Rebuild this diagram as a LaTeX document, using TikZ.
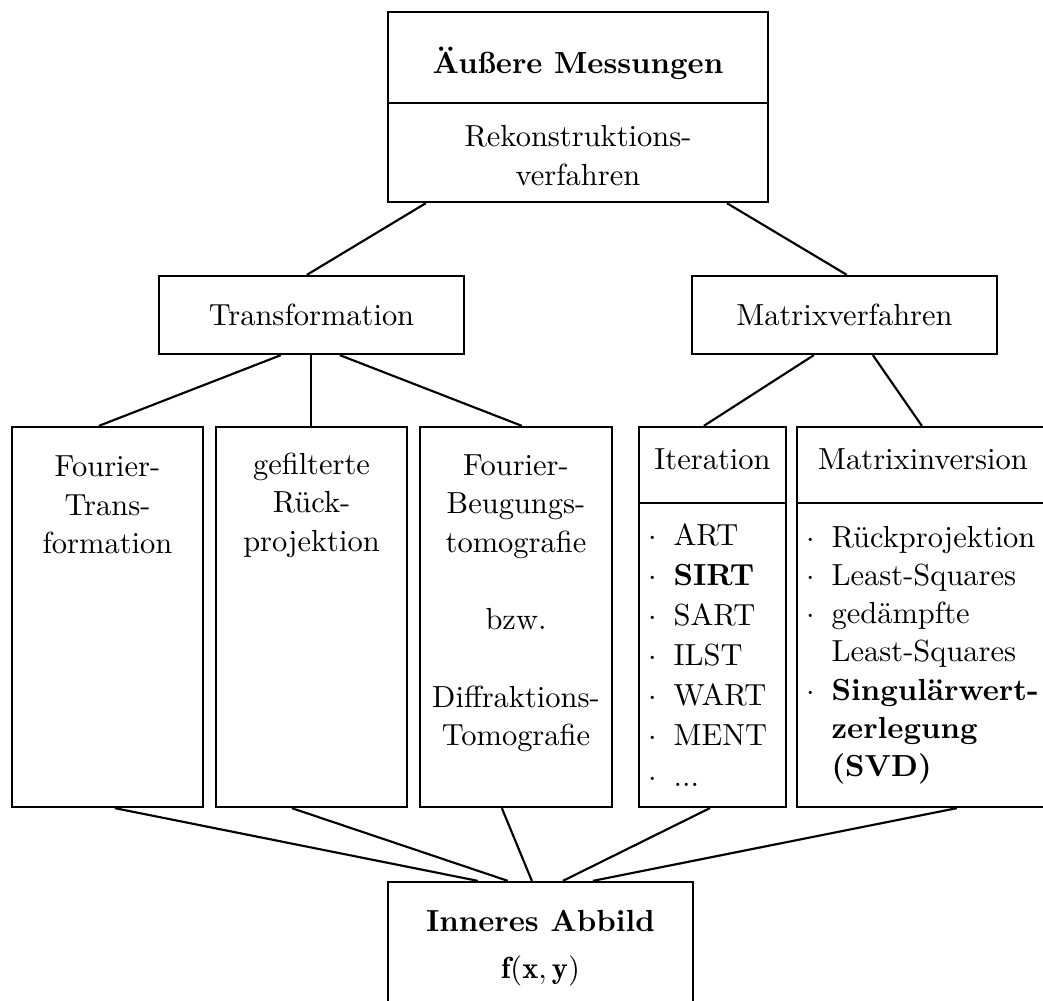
\documentclass[tikz,border=0pt]{standalone}
\usepackage{fontspec}
\usetikzlibrary{fit,calc}
\begin{document}
\begin{tikzpicture}[x=0.328pt,y=-0.328pt,
  box/.style={draw,line width=0.75pt,inner sep=0pt},
  txt/.style={inner sep=0pt,anchor=base},
  itm/.style={inner sep=0pt,anchor=base west},
  con/.style={line width=0.7pt}]
\clip (0,0) rectangle (1043,1000);
% boxes
\node[box,fit={(388,12)(768,103)}] (topA) {};
\node[box,fit={(388,103)(768,202)}] (topB) {};
\node[box,fit={(159,276)(464,354)}] (trans) {};
\node[box,fit={(692,276)(997,354)}] (matrix) {};
\node[box,fit={(12,427)(203,807)}] (fourier) {};
\node[box,fit={(216,427)(407,807)}] (filt) {};
\node[box,fit={(420,427)(612,807)}] (beug) {};
\node[box,fit={(639,427)(786,503)}] (iterH) {};
\node[box,fit={(639,503)(786,807)}] (iterL) {};
\node[box,fit={(797,427)(1049,503)}] (invH) {};
\node[box,fit={(797,503)(1049,807)}] (invL) {};
\node[box,fit={(388,882)(693,1012)}] (inner) {};
% texts
\node[txt] (tA) at (578,73) {\textbf{Äußere Messungen}};
\node[txt] (tB1) at (578,146) {Rekonstruktions-};
\node[txt] (tB2) at (578,185) {verfahren};
\node[txt] (tT) at (311.5,325) {Transformation};
\node[txt] (tM) at (844.5,325) {Matrixverfahren};
\node[txt] (f1) at (107.5,476.5) {Fourier-};
\node[txt] (f2) at (107.5,515) {Trans-};
\node[txt] (f3) at (107.5,553.5) {formation};
\node[txt] (g1) at (311.5,474) {gefilterte};
\node[txt] (g2) at (311.5,512.5) {Rück-};
\node[txt] (g3) at (311.5,551) {projektion};
\node[txt] (b1) at (516,475) {Fourier-};
\node[txt] (b2) at (516,513.5) {Beugungs-};
\node[txt] (b3) at (516,552) {tomografie};
\node[txt] (b4) at (516,629.5) {bzw.};
\node[txt] (b5) at (516,707) {Diffraktions-};
\node[txt] (b6) at (516,745.5) {Tomografie};
\node[txt] (tI) at (712.5,469) {Iteration};
\node[txt] (tV) at (923,469) {Matrixinversion};
% iteration list
\node[itm] (id1) at (648,545) {$\cdot$};
\node[itm] (it1) at (673,545) {ART};
\node[itm] (id2) at (648,585) {$\cdot$};
\node[itm] (it2) at (673,585) {\textbf{SIRT}};
\node[itm] (id3) at (648,625) {$\cdot$};
\node[itm] (it3) at (673,625) {SART};
\node[itm] (id4) at (648,665) {$\cdot$};
\node[itm] (it4) at (673,665) {ILST};
\node[itm] (id5) at (648,705) {$\cdot$};
\node[itm] (it5) at (673,705) {WART};
\node[itm] (id6) at (648,745) {$\cdot$};
\node[itm] (it6) at (673,745) {MENT};
\node[itm] (id7) at (648,786) {$\cdot$};
\node[itm] (it7) at (673,786) {...};
% inversion list
\node[itm] (vd1) at (806,547) {$\cdot$};
\node[itm] (vt1) at (831,547) {Rückprojektion};
\node[itm] (vd2) at (806,585) {$\cdot$};
\node[itm] (vt2) at (831,585) {Least-Squares};
\node[itm] (vd3) at (806,623) {$\cdot$};
\node[itm] (vt3) at (831,623) {gedämpfte};
\node[itm] (vt4) at (831,661.5) {Least-Squares};
\node[itm] (vd5) at (806,700) {$\cdot$};
\node[itm] (vt5) at (831,700) {\textbf{Singulärwert-}};
\node[itm] (vt6) at (831,738) {\textbf{zerlegung}};
\node[itm] (vt7) at (831,776) {\textbf{(SVD)}};
% inner
\node[txt] (n1) at (540.5,931) {\textbf{Inneres Abbild}};
\node[txt] (n2) at (540.5,978) {$\mathbf{f}(\mathbf{x},\mathbf{y})$};
% connectors
\draw[con] ($(topB.south west)+(39,0)$) -- ($(trans.north west)+(149,0)$);
\draw[con] ($(topB.south west)+(340,0)$) -- ($(matrix.north west)+(156,0)$);
\draw[con] ($(trans.south west)+(123,0)$) -- ($(fourier.north west)+(88,0)$);
\draw[con] ($(trans.south west)+(153,0)$) -- ($(filt.north west)+(96,0)$);
\draw[con] ($(trans.south west)+(182,0)$) -- ($(beug.north west)+(103,0)$);
\draw[con] ($(matrix.south west)+(123,0)$) -- ($(iterH.north west)+(66,0)$);
\draw[con] ($(matrix.south west)+(182,0)$) -- ($(invH.north west)+(126,0)$);
\draw[con] ($(fourier.south west)+(104,0)$) -- ($(inner.north west)+(91,0)$);
\draw[con] ($(filt.south west)+(77,0)$) -- ($(inner.north west)+(121,0)$);
\draw[con] ($(beug.south west)+(83,0)$) -- ($(inner.north west)+(145,0)$);
\draw[con] ($(iterL.south west)+(72,0)$) -- ($(inner.north west)+(176,0)$);
\draw[con] ($(invL.south west)+(161,0)$) -- ($(inner.north west)+(206,0)$);
\end{tikzpicture}
\end{document}
